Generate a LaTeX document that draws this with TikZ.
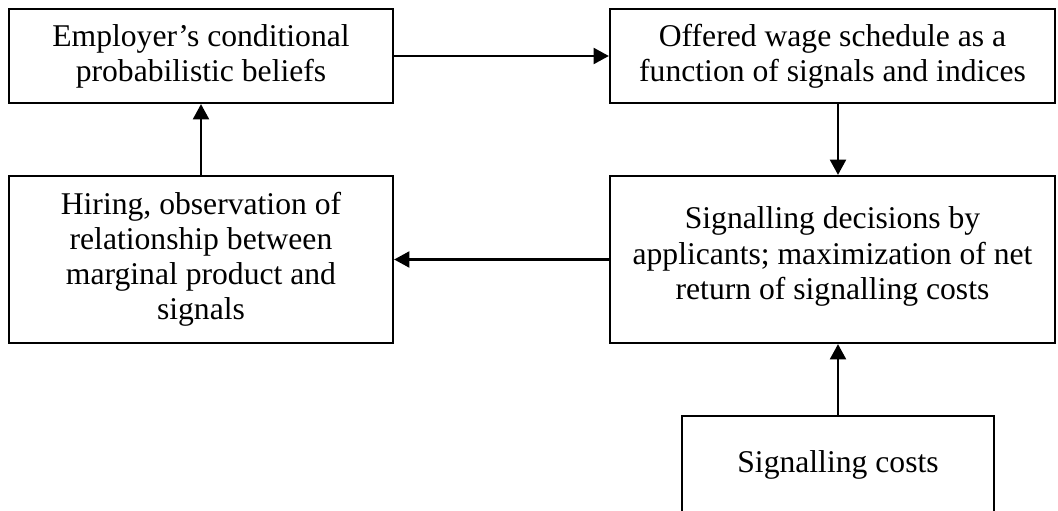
\documentclass[tikz,border=0pt]{standalone}
\usepackage{fontspec}
\setmainfont{Liberation Serif}
\usepackage{tikz}
\usetikzlibrary{positioning,calc,arrows.meta}

\begin{document}
\begin{tikzpicture}[x=0.025cm,y=-0.025cm,
  box/.style={draw,line width=1.6pt,align=center,inner sep=0pt,
    font=\fontsize{22.5}{25}\selectfont},
  link/.style={line width=1.5pt,-{Triangle[length=0.38cm,width=0.4cm]}}]
\useasboundingbox (0,0) rectangle (1058,511);
\node[box,minimum width=9.6cm,minimum height=2.35cm] (beliefs) at (201,56)
  {Employer’s conditional\\probabilistic beliefs};
\node[box,minimum width=11.125cm,minimum height=2.35cm] (wage) at (832.5,56)
  {Offered wage schedule as a\\function of signals and indices};
\node[box,minimum width=9.6cm,minimum height=4.175cm] (hiring) at (201,259.5)
  {Hiring, observation of\\relationship between\\marginal product and\\signals};
\node[box,minimum width=11.125cm,minimum height=4.175cm] (decide) at (832.5,259.5)
  {Signalling decisions by\\applicants; maximization of net\\return of signalling costs\\[-16pt]\mbox{}};
\node[box,minimum width=7.8cm,minimum height=2.425cm] (costs) at (838,464.5)
  {Signalling costs};
\draw[link] (beliefs) -- (wage);
\draw[link] (wage.south -| costs) -- (decide.north -| costs);
\draw[link] (decide) -- (hiring);
\draw[link] (hiring) -- (beliefs);
\draw[link] (costs) -- (decide.south -| costs);
\end{tikzpicture}
\end{document}
